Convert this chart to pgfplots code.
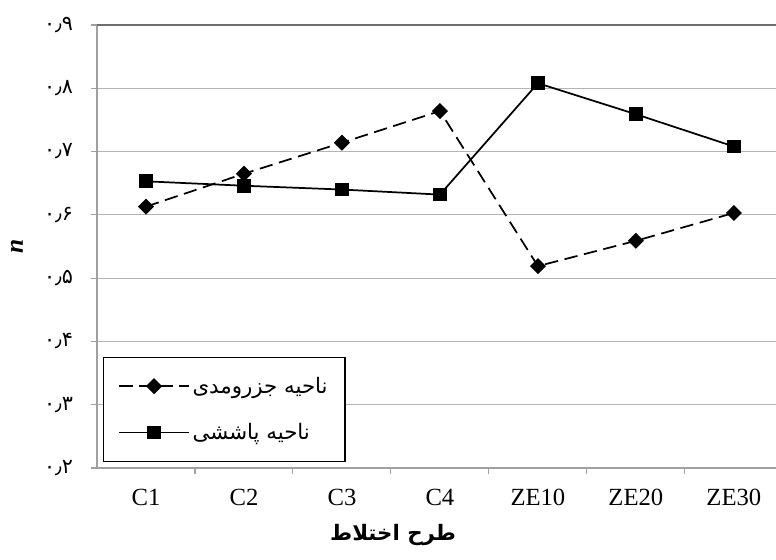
\documentclass[border=0pt]{standalone}
\usepackage{fontspec}
\setmainfont{Liberation Serif}
\newfontfamily\arabicfont[Script=Arabic]{DejaVu Sans}
\TeXXeTstate=1
\usepackage{pgfplots}
\pgfplotsset{compat=1.18}
\definecolor{gridgray}{HTML}{B4B4B4}
\definecolor{axgray}{HTML}{A0A0A0}
\definecolor{topgray}{HTML}{6E6E6E}
\begin{document}
\begin{tikzpicture}
\begin{axis}[
  scale only axis, width=509.25pt, height=332.25pt,
  xmin=-0.5, xmax=6.43, ymin=0.2, ymax=0.9,
  axis lines*=left,
  axis line style={-, draw=axgray, line width=0.8pt},
  xtick={0,...,6},
  xticklabels={C1,C2,C3,C4,ZE10,ZE20,ZE30},
  major x tick style={draw=none},
  minor xtick={0.5,1.5,2.5,3.5,4.5,5.5},
  minor x tick style={draw=axgray, line width=0.8pt},
  minor tick length=4.5pt,
  major tick length=4.5pt,
  tick align=outside,
  ytick={0.2,0.3,0.4,0.5,0.6,0.7,0.8,0.9},
  yticklabels={۰٫۲,۰٫۳,۰٫۴,۰٫۵,۰٫۶,۰٫۷,۰٫۸,۰٫۹},
  major y tick style={draw=axgray, line width=0.8pt},
  ymajorgrids,
  grid style={draw=gridgray, line width=0.9pt},
  extra y ticks={0.9}, extra y tick labels={},
  extra y tick style={grid style={draw=topgray, line width=0.9pt}},
  yticklabel style={font=\arabicfont\fontsize{15.5}{16}\selectfont, xshift=-10pt},
  xticklabel style={font=\fontsize{18.5}{20}\selectfont, yshift=-8pt},
  xlabel={\arabicfont\bfseries\beginR طرح اختلاط\endR},
  xlabel style={at={(axis description cs:0.436,-0.151)}, anchor=center, font=\fontsize{16}{18}\selectfont},
  ylabel={\textbf{\textit{n}}},
  ylabel style={at={(axis description cs:-0.118,0.5)}, anchor=center, font=\fontsize{19}{20}\selectfont},
  legend style={at={(axis description cs:0.009,0.0135)}, anchor=south west,
    draw=black, line width=0.8pt, fill=white,
    font=\arabicfont\fontsize{16}{18}\selectfont,
    inner xsep=11pt, inner ysep=13pt, row sep=17pt},
  legend cell align=left,
  legend image code/.code={\draw[mark repeat=2,mark phase=2,#1] plot coordinates {(0cm,0cm) (0.92cm,0cm) (1.84cm,0cm)};},
]
\addplot[black, line width=1.3pt, dash pattern=on 10pt off 5pt,
  mark=square*, mark size=3.6pt, mark options={solid, rotate=45, fill=black}]
  coordinates {(0,0.613) (1,0.665) (2,0.714) (3,0.764) (4,0.519) (5,0.559) (6,0.603)};
\addlegendentry{\beginR ناحیه جزرومدی\endR}
\addplot[black, line width=1.3pt, solid,
  mark=square*, mark size=4.5pt, mark options={solid, fill=black}]
  coordinates {(0,0.653) (1,0.646) (2,0.640) (3,0.632) (4,0.808) (5,0.759) (6,0.708)};
\addlegendentry{\beginR ناحیه پاششی\endR}
\end{axis}
\pgfresetboundingbox
\path[use as bounding box] ([xshift=-72.75pt,yshift=-69pt]current axis.south west) rectangle ([yshift=18.75pt]current axis.north east);
\end{tikzpicture}
\end{document}
